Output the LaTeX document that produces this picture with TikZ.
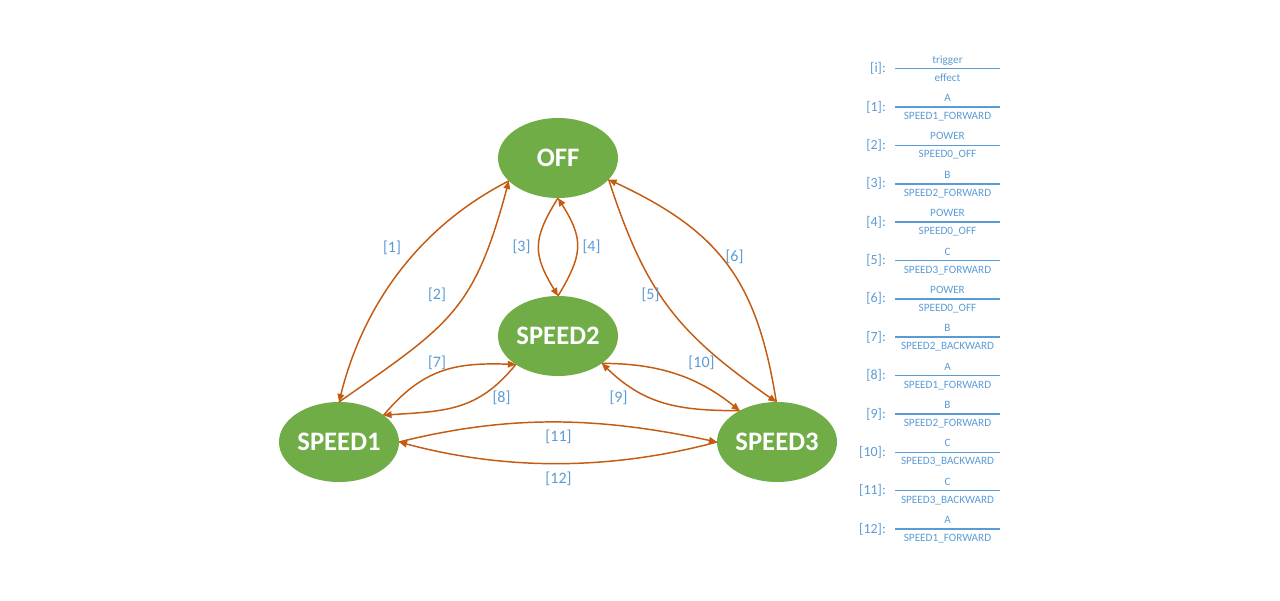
\documentclass[tikz,border=0pt]{standalone}
\usepackage{fontspec}
\setmainfont{Carlito}
\usetikzlibrary{shapes.geometric,arrows.meta}
\definecolor{stgreen}{HTML}{70AD47}
\definecolor{edgeor}{HTML}{C55A11}
\definecolor{lblue}{HTML}{5B9BD5}
\begin{document}
\begin{tikzpicture}[x=0.75pt,y=-0.75pt,
  state/.style={ellipse, fill=stgreen, minimum width=90pt, minimum height=60pt,
    inner sep=0pt, outer sep=0pt, text=white,
    font=\fontsize{20}{24}\selectfont\bfseries},
  tr/.style={draw=edgeor, line width=1.1pt, -{Triangle[length=6pt,width=5pt]}},
  lbl/.style={text=lblue, font=\fontsize{12}{14}\selectfont, inner sep=0pt},
  legkey/.style={text=lblue, font=\fontsize{10.5}{12}\selectfont, inner sep=0pt, anchor=east},
  legtxt/.style={text=lblue, font=\fontsize{8.4}{10}\selectfont, inner sep=0pt, anchor=base},
  legline/.style={draw=lblue, line width=1.1pt}]
\useasboundingbox (0,0) rectangle (1280,600);

% states
\node[state] (off) at (558,158) {OFF};
\node[state] (s2) at (558,336) {SPEED2};
\node[state] (s1) at (339,442) {SPEED1};
\node[state] (s3) at (777,442) {SPEED3};

% transitions
\draw[tr] (off.205) to[out=207,in=76,looseness=0.92] (s1.90);   % [1]
\draw[tr] (s1.90) to[out=35,in=255,looseness=1.24] (off.205);   % [2]
\draw[tr] (off.270) to[out=238,in=121,looseness=1.28] (s2.90);  % [3]
\draw[tr] (s2.90) to[out=59,in=302,looseness=1.28] (off.270);   % [4]
\draw[tr] (off.337) to[out=288,in=145,looseness=1.11] (s3.91);  % [5]
\draw[tr] (s3.91) to[out=99,in=335,looseness=1.13] (off.337);   % [6]
\draw[tr] (s1.31) to[out=50,in=178,looseness=1.1] (s2.214);     % [7]
\draw[tr] (s2.214) to[out=231,in=4,looseness=1.1] (s1.31);      % [8]
\draw[tr] (s3.140) to[out=180,in=316,looseness=1.06] (s2.328);  % [9]
\draw[tr] (s2.328) to[out=0,in=141,looseness=0.97] (s3.140);    % [10]
\draw[tr] (s1.0) to[out=14,in=168,looseness=0.95] (s3.180);     % [11]
\draw[tr] (s3.180) to[out=195,in=345,looseness=0.89] (s1.0);    % [12]

% transition labels
\node[lbl] (l1) at (392,248) {[1]};
\node[lbl] (l2) at (437,295) {[2]};
\node[lbl] (l3) at (521.5,247) {[3]};
\node[lbl] (l4) at (591.5,247) {[4]};
\node[lbl] (l5) at (650.5,295) {[5]};
\node[lbl] (l6) at (734.5,257) {[6]};
\node[lbl] (l7) at (437,363) {[7]};
\node[lbl] (l8) at (501.5,398) {[8]};
\node[lbl] (l9) at (618.5,398) {[9]};
\node[lbl] (l10) at (701.5,363) {[10]};
\node[lbl] (l11) at (558.5,437) {[11]};
\node[lbl] (l12) at (558.5,479) {[12]};

% legend
\foreach \k/\trig/\eff [count=\n from 0] in {
  {[i]}/trigger/effect,
  {[1]}/A/SPEED1\_FORWARD,
  {[2]}/POWER/SPEED0\_OFF,
  {[3]}/B/SPEED2\_FORWARD,
  {[4]}/POWER/SPEED0\_OFF,
  {[5]}/C/SPEED3\_FORWARD,
  {[6]}/POWER/SPEED0\_OFF,
  {[7]}/B/SPEED2\_BACKWARD,
  {[8]}/A/SPEED1\_FORWARD,
  {[9]}/B/SPEED2\_FORWARD,
  {[10]}/C/SPEED3\_BACKWARD,
  {[11]}/C/SPEED3\_BACKWARD,
  {[12]}/A/SPEED1\_FORWARD}{
  \pgfmathsetmacro{\yy}{68.7+38.36*\n}
  \coordinate (la\n) at (895,\yy);
  \coordinate (lb\n) at (1000,\yy);
  \draw[legline] (la\n) -- (lb\n);
  \node[legkey] (key\n) at (886,\yy) {\k:};
  \node[legtxt] (trig\n) at (947.5,\yy-5.5) {\trig};
  \node[legtxt] (eff\n) at (947.5,\yy+12.5) {\eff};
}
\end{tikzpicture}
\end{document}
